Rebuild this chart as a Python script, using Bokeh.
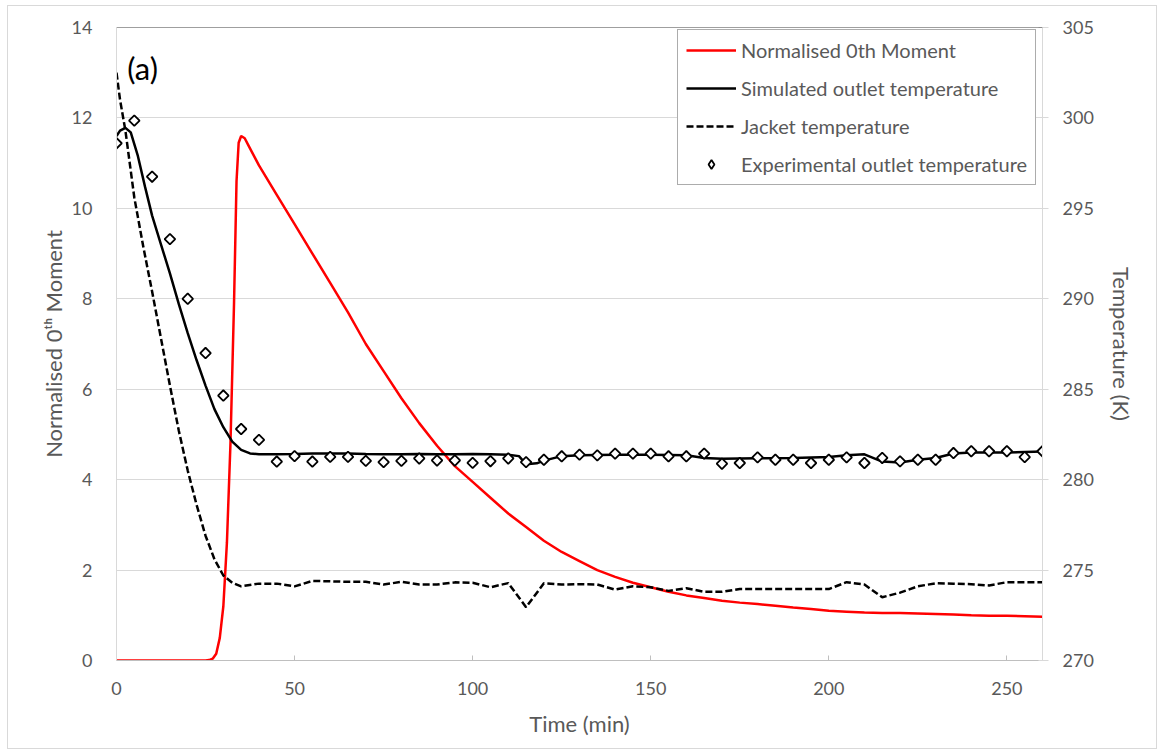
import numpy as np
from bokeh.plotting import figure
from bokeh.models import (Range1d, LinearAxis, FixedTicker, Legend, LegendItem,
                          Label, Span)
from bokeh.embed import file_html
from bokeh.resources import INLINE

# ---- data -------------------------------------------------------------
# Normalised zeroth moment (left axis)
moment_time = [0, 25, 26, 27, 28, 29, 30, 31, 32, 33, 33.7, 34.3, 35, 36, 37, 38,
               40, 45, 50, 55, 60, 65, 70, 75, 80, 85, 90, 95, 100, 105, 110, 115,
               120, 125, 130, 135, 140, 145, 150, 155, 160, 165, 170, 175, 180, 185,
               190, 195, 200, 205, 210, 215, 220, 225, 230, 235, 240, 245, 250, 255, 260]
moment_value = [0, 0, 0.01, 0.04, 0.15, 0.5, 1.2, 2.6, 4.8, 7.9, 10.6, 11.45, 11.6, 11.55,
                11.4, 11.25, 10.95, 10.3, 9.65, 9.0, 8.35, 7.7, 7.0, 6.4, 5.8, 5.25, 4.75,
                4.3, 3.95, 3.6, 3.25, 2.95, 2.65, 2.4, 2.2, 2.0, 1.85, 1.72, 1.62, 1.52,
                1.44, 1.38, 1.32, 1.28, 1.25, 1.21, 1.17, 1.14, 1.1, 1.08, 1.06, 1.05,
                1.05, 1.04, 1.03, 1.02, 1.0, 0.99, 0.99, 0.98, 0.97]

# Simulated outlet temperature (K)
sim_time = [0, 1, 2.5, 4, 6, 8, 10, 12.5, 15, 17.5, 20, 22.5, 25, 27.5, 30, 32.5, 35,
            37.5, 40, 45, 50, 55, 60, 65, 70, 75, 80, 85, 90, 95, 100, 105, 110, 113,
            115, 118, 120, 125, 130, 140, 150, 160, 165, 170, 180, 190, 200, 205, 210,
            215, 220, 225, 230, 235, 240, 250, 260]
sim_temp = [299.0, 299.3, 299.45, 299.2, 297.9, 296.2, 294.6, 293.0, 291.4, 289.7, 288.1,
            286.6, 285.2, 283.9, 282.9, 282.1, 281.65, 281.45, 281.4, 281.4, 281.42,
            281.45, 281.45, 281.45, 281.42, 281.4, 281.4, 281.42, 281.4, 281.4, 281.42,
            281.4, 281.38, 281.3, 280.85, 280.9, 281.05, 281.3, 281.35, 281.38, 281.38,
            281.35, 281.2, 281.15, 281.18, 281.2, 281.25, 281.35, 281.4, 281.0, 280.95,
            281.1, 281.2, 281.45, 281.5, 281.5, 281.55]

# Jacket temperature (K)
jacket_time = [0, 1, 2.5, 5, 7.5, 10, 12.5, 15, 17.5, 20, 22.5, 25, 27.5, 30, 32.5, 35,
               40, 45, 50, 55, 60, 65, 70, 75, 80, 85, 90, 95, 100, 105, 110, 115, 120,
               125, 130, 135, 140, 145, 150, 155, 160, 165, 170, 175, 180, 185, 190, 195,
               200, 205, 210, 215, 220, 225, 230, 235, 240, 245, 250, 255, 260]
jacket_temp = [302.5, 301.0, 299.3, 295.6, 292.9, 290.4, 287.8, 285.2, 282.7, 280.5, 278.6,
               276.9, 275.6, 274.7, 274.3, 274.1, 274.25, 274.25, 274.1, 274.4, 274.38,
               274.35, 274.35, 274.2, 274.35, 274.2, 274.2, 274.32, 274.3, 274.05, 274.28,
               272.95, 274.27, 274.2, 274.22, 274.2, 273.92, 274.1, 274.05, 273.85, 274.0,
               273.8, 273.8, 273.95, 273.95, 273.95, 273.95, 273.95, 273.95, 274.33, 274.2,
               273.5, 273.75, 274.1, 274.27, 274.25, 274.22, 274.15, 274.33, 274.33, 274.33]

# Experimental outlet temperature (K), sampled every 5 min
exp_time = list(range(0, 261, 5))
exp_temp = [298.6, 299.85, 296.75, 293.3, 290.0, 287.0, 284.65, 282.8, 282.2, 281.0,
            281.3, 281.0, 281.26, 281.26, 281.04, 280.97, 281.04, 281.17, 281.06, 281.06,
            280.93, 281.02, 281.17, 280.97, 281.1, 281.29, 281.38, 281.34, 281.44, 281.44,
            281.44, 281.29, 281.29, 281.44, 280.88, 280.92, 281.23, 281.1, 281.1, 280.92,
            281.1, 281.23, 280.92, 281.2, 281.01, 281.1, 281.1, 281.47, 281.57, 281.57,
            281.57, 281.25, 281.57]

x_ticks = [0, 50, 100, 150, 200, 250]
left_ticks = [0, 2, 4, 6, 8, 10, 12, 14]
right_ticks = [270, 275, 280, 285, 290, 295, 300, 305]

FONT = "Lato"
TXT = "#595959"

# ---- figure -----------------------------------------------------------
p = figure(width=1150, height=744, output_backend="svg", toolbar_location=None,
           x_range=Range1d(0, 260), y_range=Range1d(0, 14),
           min_border_left=108, min_border_right=116, min_border_top=21,
           min_border_bottom=90, background_fill_color="white",
           border_fill_color="white")
# light frame around the whole chart
p.margin = (5, 0, 0, 7)
p.styles = {"border": "1px solid #d9d9d9"}
p.extra_y_ranges = {"temp": Range1d(270, 305)}
p.outline_line_color = None

p.xgrid.visible = False
p.ygrid.ticker = FixedTicker(ticks=left_ticks)
p.ygrid.grid_line_color = "#d9d9d9"
p.ygrid.grid_line_width = 1

# bottom axis
xa = p.xaxis[0]
xa.ticker = FixedTicker(ticks=x_ticks)
xa.axis_line_color = "#bfbfbf"
xa.major_tick_line_color = "#bfbfbf"
xa.major_tick_in = 5
xa.major_tick_out = 0
xa.minor_tick_line_color = None
xa.major_label_standoff = 21
xa.axis_label = "Time (min)"
xa.axis_label_standoff = 12

# left axis
ya = p.yaxis[0]
ya.ticker = FixedTicker(ticks=left_ticks)
ya.axis_line_color = "#d9d9d9"
ya.major_tick_line_color = None
ya.minor_tick_line_color = None
ya.major_label_standoff = 18
ya.axis_label = "Normalised 0\u1d57\u02b0 Moment"
ya.axis_label_standoff = 2

# right axis
ra = LinearAxis(y_range_name="temp", ticker=FixedTicker(ticks=right_ticks))
ra.axis_line_color = "#d9d9d9"
ra.major_tick_line_color = "#d9d9d9"
ra.major_tick_in = 4
ra.major_tick_out = 6
ra.minor_tick_line_color = None
ra.major_label_standoff = 14
ra.axis_label = "Temperature (K)"
ra.axis_label_standoff = 11
p.add_layout(ra, "right")

for ax in (xa, ya, ra):
    ax.major_label_text_font = FONT
    ax.major_label_text_font_size = "18px"
    ax.major_label_text_color = TXT
    ax.axis_label_text_font = FONT
    ax.axis_label_text_font_size = "22px"
    ax.axis_label_text_color = TXT
    ax.axis_label_text_font_style = "normal"

# dark top edge of the plotting area
p.add_layout(Span(location=14, dimension="width", line_color="#404040", line_width=1))

# ---- series -----------------------------------------------------------
r_mom = p.line(moment_time, moment_value, line_color="#ff0000", line_width=2.5)
r_sim = p.line(sim_time, sim_temp, line_color="black", line_width=2.5,
               y_range_name="temp")
r_jac = p.line(jacket_time, jacket_temp, line_color="black", line_width=2.5,
               line_dash="7 3", y_range_name="temp")
r_exp = p.scatter(exp_time, exp_temp, marker="square", angle=np.pi / 4, size=7.5,
                  fill_color="white", line_color="black", line_width=1.8,
                  y_range_name="temp")
# hidden twin used only for the legend swatch (legend glyphs ignore angle)
r_exp_key = p.scatter(exp_time, exp_temp, marker="diamond", fill_color="white",
                      line_color="black", line_width=1.8, y_range_name="temp",
                      visible=False)

legend = Legend(items=[
    LegendItem(label="Normalised 0th Moment", renderers=[r_mom]),
    LegendItem(label="Simulated outlet temperature", renderers=[r_sim]),
    LegendItem(label="Jacket temperature", renderers=[r_jac]),
    LegendItem(label="Experimental outlet temperature", renderers=[r_exp_key]),
], location=(561, 475))
legend.label_text_font = FONT
legend.label_text_font_size = "20px"
legend.label_text_color = TXT
legend.glyph_width = 50
legend.glyph_height = 22
legend.label_height = 20
legend.label_standoff = 5
legend.spacing = 14
legend.padding = 8
legend.margin = 0
legend.border_line_color = "#595959"
legend.border_line_width = 1
legend.background_fill_color = "white"
legend.background_fill_alpha = 1
p.add_layout(legend, "center")

p.add_layout(Label(x=3.0, y=13.1, text="(a)", text_font=FONT, text_font_size="31px",
                   text_color="black", text_baseline="middle"))

open("out.html", "w").write(file_html(p, INLINE))
